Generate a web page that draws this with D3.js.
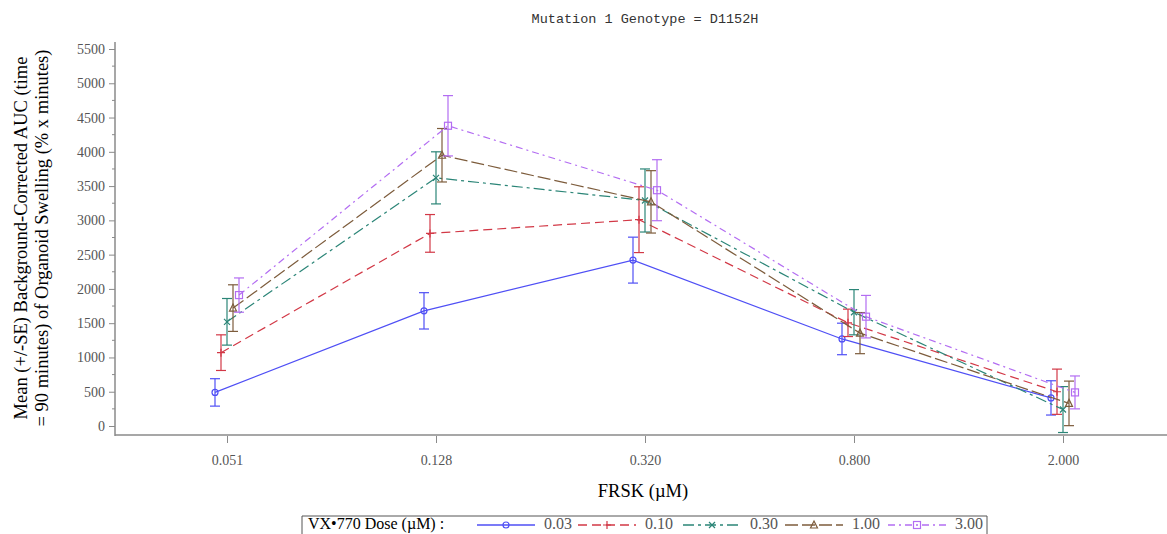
<!DOCTYPE html>
<html>
<head>
<meta charset="utf-8">
<script src="https://cdn.jsdelivr.net/npm/d3@7"></script>
<style>
  body { margin: 0; background: #fff; }
  svg { display: block; }
</style>
</head>
<body>
<div id="chart"></div>
<script>
// FRSK concentrations (x categories)
var frsk = ["0.051", "0.128", "0.320", "0.800", "2.000"];
var doses = ["0.03", "0.10", "0.30", "1.00", "3.00"];
// mean AUC per VX-770 dose
var mean003 = [490, 1680, 2420, 1270, 410];
var mean010 = [1070, 2810, 3010, 1505, 500];
var mean030 = [1520, 3620, 3290, 1660, 240];
var mean100 = [1720, 3950, 3270, 1355, 330];
var mean300 = [1910, 4380, 3440, 1595, 490];
// standard errors
var se003 = [200, 265, 335, 230, 250];
var se010 = [260, 275, 480, 200, 330];
var se030 = [340, 380, 460, 330, 335];
var se100 = [340, 390, 455, 300, 325];
var se300 = [250, 440, 445, 310, 240];
var yTicks = [0, 500, 1000, 1500, 2000, 2500, 3000, 3500, 4000, 4500, 5000, 5500];

var W = 1167, H = 534;
var svg = d3.select("#chart").append("svg").attr("width", W).attr("height", H);

var serif = "'Liberation Serif', 'Times New Roman', serif";
var axisCol = "#8a8a8a";

var x = d3.scalePoint().domain(frsk).range([227, 1063]);
var y = d3.scaleLinear().domain([0, 5500]).range([426, 49]);

var series = [
  {dose: doses[0], mean: mean003, se: se003, color: "#4f4ff5", dash: null, mark: "circle"},
  {dose: doses[1], mean: mean010, se: se010, color: "#d23846", dash: "9,5", mark: "plus"},
  {dose: doses[2], mean: mean030, se: se030, color: "#2b8577", dash: "11,4,3,4", mark: "cross"},
  {dose: doses[3], mean: mean100, se: se100, color: "#7d5c3c", dash: "13,4", mark: "triangle"},
  {dose: doses[4], mean: mean300, se: se300, color: "#b36df2", dash: "7,4,2,4", mark: "square"}
];

// title
svg.append("text")
  .attr("x", 645).attr("y", 23)
  .attr("text-anchor", "middle")
  .style("font-family", "'Liberation Mono', 'DejaVu Sans Mono', monospace")
  .style("font-size", "13.5px")
  .attr("fill", "#333")
  .text("Mutation 1 Genotype = D1152H");

// y axis
var yAxis = svg.append("g").attr("transform", "translate(115,0)")
  .call(d3.axisLeft(y).tickValues(yTicks).tickSize(6).tickPadding(4).tickFormat(d3.format("d")));
yAxis.select(".domain").remove();
yAxis.selectAll("line").attr("stroke", axisCol);
yAxis.selectAll("text").style("font-family", serif).style("font-size", "14px").attr("fill", "#555");
// minor ticks
var minor = yTicks.slice(0, -1).map(function(v){ return v + 250; });
svg.append("g").selectAll("line").data(minor).enter().append("line")
  .attr("x1", 112).attr("x2", 115)
  .attr("y1", function(d){ return y(d); }).attr("y2", function(d){ return y(d); })
  .attr("stroke", axisCol);
svg.append("line").attr("x1", 115).attr("x2", 115).attr("y1", 42).attr("y2", 436)
  .attr("stroke", axisCol).attr("stroke-width", 1.5);

// x axis
svg.append("line").attr("x1", 115).attr("x2", W).attr("y1", 435).attr("y2", 435)
  .attr("stroke", axisCol).attr("stroke-width", 1.5);
var xAxis = svg.append("g").attr("transform", "translate(0,436)")
  .call(d3.axisBottom(x).tickSize(7).tickPadding(12));
xAxis.select(".domain").remove();
xAxis.selectAll("line").attr("stroke", axisCol);
xAxis.selectAll("text").style("font-family", serif).style("font-size", "14px").attr("fill", "#555");

// axis titles
svg.append("text")
  .attr("x", 643).attr("y", 497)
  .attr("text-anchor", "middle")
  .style("font-family", serif).style("font-size", "18.5px")
  .text("FRSK (\u00b5M)");

var yl = svg.append("text")
  .attr("transform", "translate(27,238) rotate(-90)")
  .attr("text-anchor", "middle")
  .style("font-family", serif).style("font-size", "18.5px");
yl.append("tspan").attr("x", 0).attr("y", 0).text("Mean (+/-SE) Background-Corrected AUC (time");
yl.append("tspan").attr("x", 0).attr("y", 21).text("= 90 minutes) of Organoid Swelling (% x minutes)");

function drawMark(g, type, cx, cy, color) {
  if (type === "circle") {
    g.append("circle").attr("cx", cx).attr("cy", cy).attr("r", 3)
      .attr("fill", "none").attr("stroke", color).attr("stroke-width", 1.2);
  } else if (type === "plus") {
    g.append("path").attr("d", "M" + (cx - 4) + "," + cy + "h8M" + cx + "," + (cy - 4) + "v8")
      .attr("stroke", color).attr("stroke-width", 1.2);
  } else if (type === "cross") {
    g.append("path").attr("d", "M" + (cx - 3) + "," + (cy - 3) + "l6,6M" + (cx + 3) + "," + (cy - 3) + "l-6,6")
      .attr("stroke", color).attr("stroke-width", 1.2);
  } else if (type === "triangle") {
    g.append("path").attr("d", "M" + cx + "," + (cy - 4) + "L" + (cx + 3.5) + "," + (cy + 3) + "L" + (cx - 3.5) + "," + (cy + 3) + "Z")
      .attr("fill", "none").attr("stroke", color).attr("stroke-width", 1.2);
  } else {
    g.append("rect").attr("x", cx - 3.5).attr("y", cy - 3.5).attr("width", 7).attr("height", 7)
      .attr("fill", "none").attr("stroke", color).attr("stroke-width", 1.2);
  }
}

series.forEach(function(s, i) {
  var off = (i - 2) * 6;
  var g = svg.append("g");
  var pts = frsk.map(function(f, j) {
    return {x: x(f) + off, m: s.mean[j], se: s.se[j]};
  });
  var line = d3.line().x(function(d){ return d.x; }).y(function(d){ return y(d.m); });
  g.append("path").attr("d", line(pts))
    .attr("fill", "none").attr("stroke", s.color).attr("stroke-width", 1.2)
    .attr("stroke-dasharray", s.dash);
  pts.forEach(function(p) {
    var top = y(p.m + p.se), bot = y(p.m - p.se);
    g.append("line").attr("x1", p.x).attr("x2", p.x).attr("y1", top).attr("y2", bot)
      .attr("stroke", s.color).attr("stroke-width", 1.2);
    g.append("line").attr("x1", p.x - 5).attr("x2", p.x + 5).attr("y1", top).attr("y2", top)
      .attr("stroke", s.color).attr("stroke-width", 1.2);
    g.append("line").attr("x1", p.x - 5).attr("x2", p.x + 5).attr("y1", bot).attr("y2", bot)
      .attr("stroke", s.color).attr("stroke-width", 1.2);
    drawMark(g, s.mark, p.x, y(p.m), s.color);
  });
});

// legend
var lg = svg.append("g");
lg.append("path").attr("d", "M302,540V516H987V540")
  .attr("fill", "none").attr("stroke", "#555").attr("stroke-width", 1);
lg.append("text").attr("x", 308).attr("y", 529)
  .style("font-family", serif).style("font-size", "16px")
  .text("VX\u2022770 Dose (\u00b5M) :");
var legX = [477, 578, 683, 785, 888];
series.forEach(function(s, i) {
  var lx = legX[i];
  lg.append("line").attr("x1", lx).attr("x2", lx + 58).attr("y1", 525).attr("y2", 525)
    .attr("stroke", s.color).attr("stroke-width", 1.4).attr("stroke-dasharray", s.dash);
  drawMark(lg, s.mark, lx + 29, 525, s.color);
  lg.append("text").attr("x", lx + 67).attr("y", 529)
    .style("font-family", serif).style("font-size", "16px").attr("fill", "#555")
    .text(s.dose);
});
</script>
</body>
</html>
